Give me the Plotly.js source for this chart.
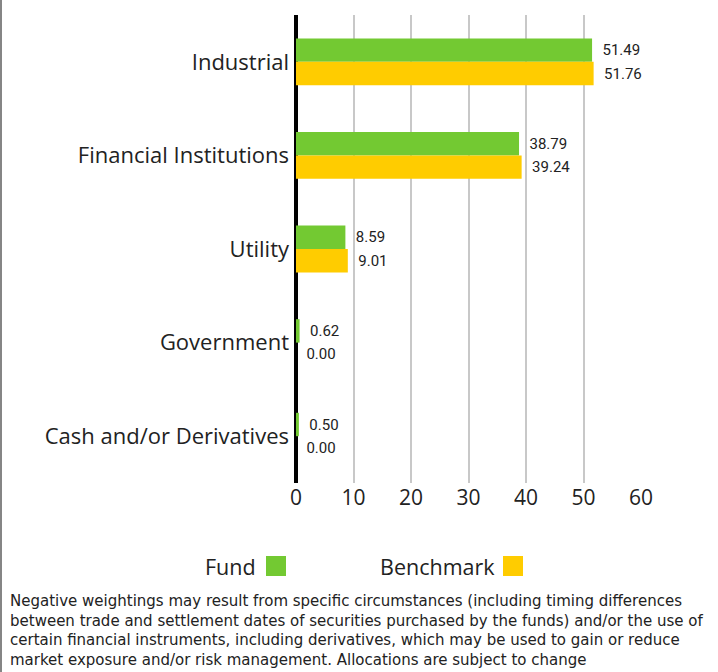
<!DOCTYPE html>
<html>
<head>
<meta charset="utf-8">
<script src="https://cdn.plot.ly/plotly-3.0.1.min.js"></script>
<style>
  html, body { margin: 0; padding: 0; background: #fff; }
  #wrap { position: relative; width: 718px; height: 672px; }
  #chart { width: 718px; height: 672px; }
  #frame { position: absolute; left: 0; top: 0; width: 2px; height: 672px; background: #858585; pointer-events: none; }
</style>
</head>
<body>
<div id="wrap">
  <div id="chart"></div>
  <div id="frame"></div>
</div>
<script>
const categories = ["Industrial", "Financial Institutions", "Utility", "Government", "Cash and/or Derivatives"];
const fundValues = [51.49, 38.79, 8.59, 0.62, 0.50];
const benchmarkValues = [51.76, 39.24, 9.01, 0.00, 0.00];
const seriesNames = ["Fund", "Benchmark"];
const seriesColors = ["#73C932", "#FFCC00"];
const xTicks = [0, 10, 20, 30, 40, 50, 60];
const footnoteLines = [
  "Negative weightings may result from specific circumstances (including timing differences",
  "between trade and settlement dates of securities purchased by the funds) and/or the use of",
  "certain financial instruments, including derivatives, which may be used to gain or reduce",
  "market exposure and/or risk management. Allocations are subject to change"
];

const textFont = { family: "Roboto, 'Liberation Sans', sans-serif", size: 15, color: "#222" };

function barTrace(values, i) {
  return {
    type: "bar",
    orientation: "h",
    name: seriesNames[i],
    y: categories,
    x: values,
    marker: { color: seriesColors[i], line: { width: 0 } },
    texttemplate: "\u00a0\u00a0%{x:.2f}",
    textposition: "outside",
    textfont: textFont,
    cliponaxis: false,
    constraintext: "none",
    hoverinfo: "skip"
  };
}

const data = [barTrace(fundValues, 0), barTrace(benchmarkValues, 1)];

// plot area geometry (for paper conversions of legend/footnote)
const L = 296, R = 641, T = 15, B = 483;
const px2x = p => (p - L) / (R - L);
const px2y = p => (B - p) / (B - T);

const legendShapes = [
  { type: "rect", xref: "paper", yref: "paper", x0: px2x(266), x1: px2x(286), y0: px2y(576), y1: px2y(556), fillcolor: seriesColors[0], line: { width: 0 } },
  { type: "rect", xref: "paper", yref: "paper", x0: px2x(503), x1: px2x(523), y0: px2y(576), y1: px2y(556), fillcolor: seriesColors[1], line: { width: 0 } }
];

const sansWide = "'Open Sans', 'Noto Sans', sans-serif";
const legendFont = { family: sansWide, size: 21.5, color: "#222" };

const annotations = [
  { xref: "paper", yref: "paper", x: px2x(258), y: px2y(566), xanchor: "right", yanchor: "middle", text: seriesNames[0], showarrow: false, font: legendFont },
  { xref: "paper", yref: "paper", x: px2x(497), y: px2y(566), xanchor: "right", yanchor: "middle", text: seriesNames[1], showarrow: false, font: legendFont },
  { xref: "paper", yref: "paper", x: px2x(8), y: px2y(590), xanchor: "left", yanchor: "top", align: "left",
    text: footnoteLines.join("<br>"), showarrow: false,
    font: { family: "'DejaVu Sans', sans-serif", size: 15, color: "#222" } }
];

const layout = {
  width: 718,
  height: 672,
  margin: { l: L, r: 718 - R, t: T, b: 672 - B, pad: 0 },
  paper_bgcolor: "#fff",
  plot_bgcolor: "#fff",
  barmode: "group",
  bargap: 0.5,
  bargroupgap: 0,
  showlegend: false,
  xaxis: {
    range: [0, 60],
    tickvals: xTicks,
    ticktext: xTicks.map(String),
    showgrid: true,
    gridcolor: "#C8C8C8",
    gridwidth: 2,
    zeroline: true,
    zerolinecolor: "#000",
    zerolinewidth: 4,
    showline: false,
    ticks: "",
    tickfont: { family: "'Open Sans', sans-serif", size: 21, color: "#222" },
    fixedrange: true
  },
  yaxis: {
    type: "category",
    autorange: "reversed",
    showgrid: false,
    zeroline: false,
    showline: false,
    ticks: "",
    ticklabelstandoff: 6,
    tickfont: { family: sansWide, size: 22, color: "#222" },
    fixedrange: true
  },
  shapes: legendShapes,
  annotations: annotations,
  font: { family: sansWide, color: "#222" }
};

Plotly.newPlot("chart", data, layout, { displayModeBar: false, staticPlot: true });
</script>
</body>
</html>
